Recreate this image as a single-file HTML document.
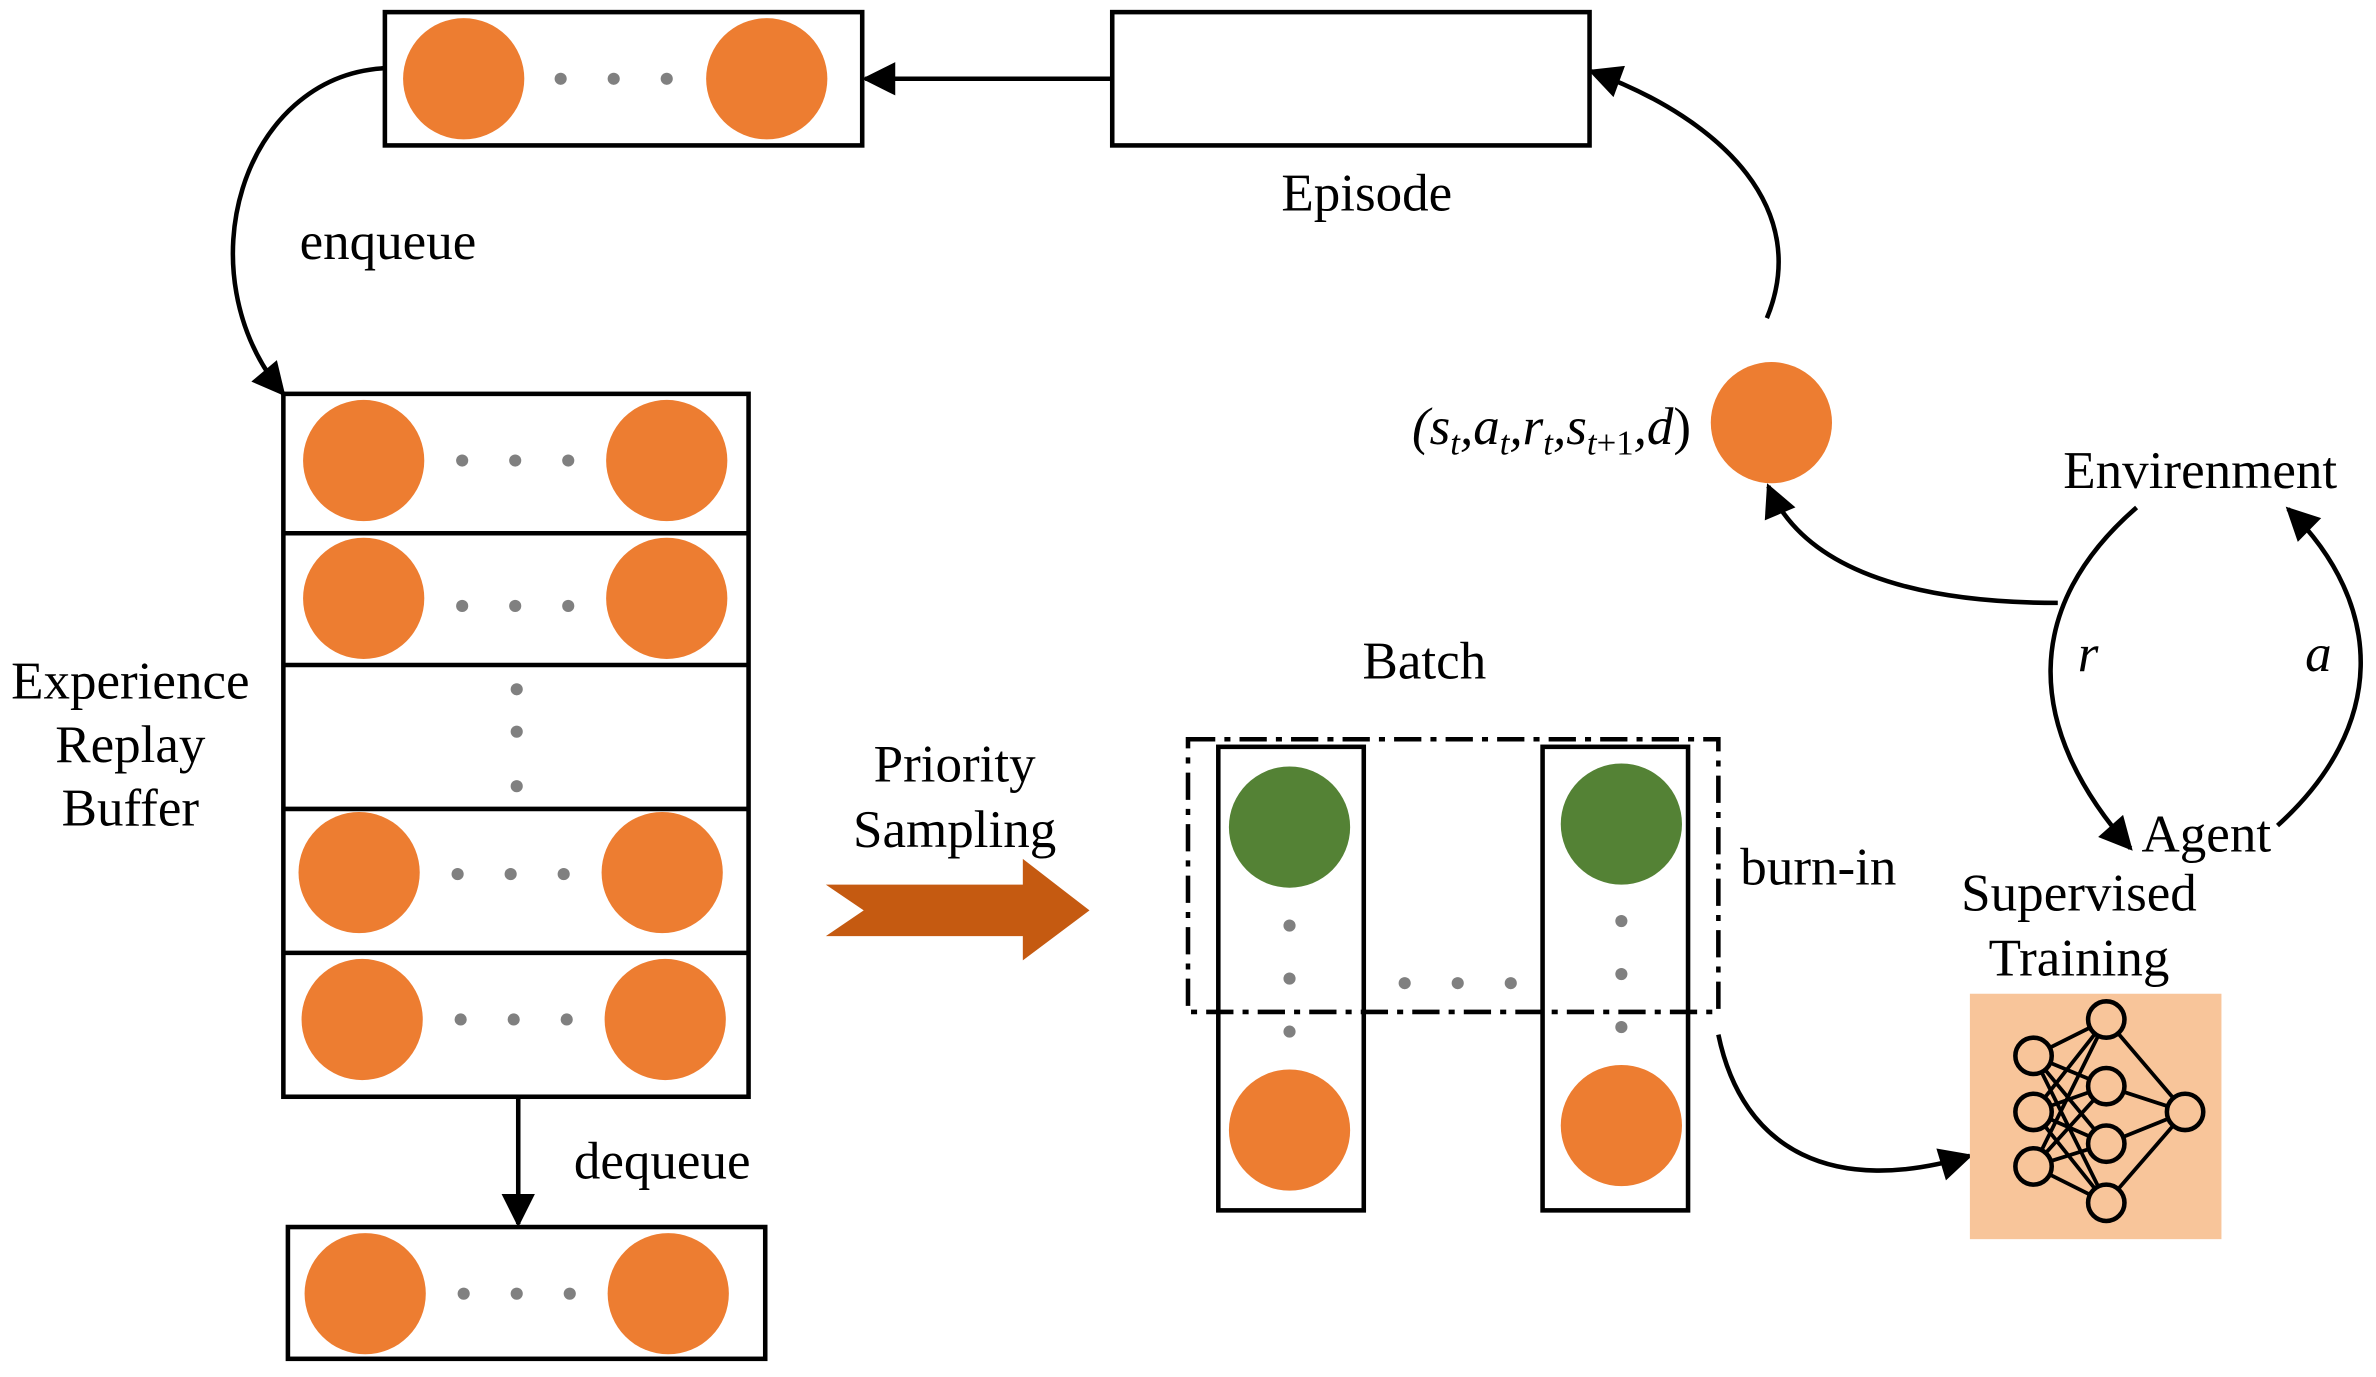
<!DOCTYPE html>
<html><head><meta charset="utf-8"><style>
html,body{margin:0;padding:0;background:#fff;}
svg{display:block;}
text{font-family:"Liberation Serif",serif;fill:#000;}
</style></head><body>
<svg width="2376" height="1377" viewBox="0 0 1568 909" preserveAspectRatio="none" xmlns="http://www.w3.org/2000/svg">
<defs>
<marker id="a2" viewBox="0 0 10 10" refX="9" refY="5" markerWidth="24" markerHeight="22" markerUnits="userSpaceOnUse" orient="auto">
<path d="M0,0 L10,5 L0,10 z" fill="#000"/></marker>
</defs>
<g fill="#ed7d31">
<circle cx="306" cy="52" r="40"/><circle cx="506" cy="52" r="40"/>
<circle cx="240" cy="304" r="40"/><circle cx="440" cy="304" r="40"/>
<circle cx="240" cy="395" r="40"/><circle cx="440" cy="395" r="40"/>
<circle cx="237" cy="576" r="40"/><circle cx="437" cy="576" r="40"/>
<circle cx="239" cy="673" r="40"/><circle cx="439" cy="673" r="40"/>
<circle cx="241" cy="854" r="40"/><circle cx="441" cy="854" r="40"/>
<circle cx="851" cy="746" r="40"/><circle cx="1070" cy="743" r="40"/>
<circle cx="1169" cy="279" r="40"/>
</g>
<g fill="#548235"><circle cx="851" cy="546" r="40"/><circle cx="1070" cy="544" r="40"/></g>
<g fill="#808080">
<circle cx="370" cy="52" r="4"/><circle cx="405" cy="52" r="4"/><circle cx="440" cy="52" r="4"/>
<circle cx="305" cy="304" r="4"/><circle cx="340" cy="304" r="4"/><circle cx="375" cy="304" r="4"/>
<circle cx="305" cy="400" r="4"/><circle cx="340" cy="400" r="4"/><circle cx="375" cy="400" r="4"/>
<circle cx="341" cy="455" r="4"/><circle cx="341" cy="483" r="4"/><circle cx="341" cy="519" r="4"/>
<circle cx="302" cy="577" r="4"/><circle cx="337" cy="577" r="4"/><circle cx="372" cy="577" r="4"/>
<circle cx="304" cy="673" r="4"/><circle cx="339" cy="673" r="4"/><circle cx="374" cy="673" r="4"/>
<circle cx="306" cy="854" r="4"/><circle cx="341" cy="854" r="4"/><circle cx="376" cy="854" r="4"/>
<circle cx="851" cy="611" r="4"/><circle cx="851" cy="646" r="4"/><circle cx="851" cy="681" r="4"/>
<circle cx="1070" cy="608" r="4"/><circle cx="1070" cy="643" r="4"/><circle cx="1070" cy="678" r="4"/>
<circle cx="927" cy="649" r="4"/><circle cx="962" cy="649" r="4"/><circle cx="997" cy="649" r="4"/>
</g>
<g fill="none" stroke="#000" stroke-width="3">
<rect x="254" y="8" width="315" height="88"/>
<rect x="734" y="8" width="315" height="88"/>
<rect x="187" y="260" width="307" height="464"/>
<line x1="187" y1="352" x2="494" y2="352"/><line x1="187" y1="439" x2="494" y2="439"/>
<line x1="187" y1="534" x2="494" y2="534"/><line x1="187" y1="629" x2="494" y2="629"/>
<rect x="190" y="810" width="315" height="87"/>
<rect x="804" y="493" width="96" height="306"/>
<rect x="1018" y="493" width="96" height="306"/>
<rect x="784" y="488" width="350" height="180" stroke-dasharray="18,6,4,6"/>
<line x1="734" y1="52" x2="571" y2="52" marker-end="url(#a2)"/>
<path d="M254,45 C160,50 120,180 187,260" marker-end="url(#a2)"/>
<line x1="342" y1="724" x2="342" y2="808" marker-end="url(#a2)"/>
<path d="M1134,683 C1150,760 1210,790 1300,763" marker-end="url(#a2)"/>
<path d="M1166,210 C1195,140 1140,80 1050,47" marker-end="url(#a2)"/>
<path d="M1358,398 C1260,398 1190,375 1167,321" marker-end="url(#a2)"/>
<path d="M1410,335 C1335,400 1335,480 1406,560" marker-end="url(#a2)"/>
<path d="M1503,545 C1575,480 1575,400 1510,336" marker-end="url(#a2)"/>
</g>
<polygon points="545,584 675,584 675,567 719,601 675,634 675,618 545,618 570,601" fill="#c55a11"/>
<rect x="1300" y="656" width="166" height="162" fill="#f8c59a"/>
<g stroke="#000" stroke-width="2.5" fill="none">
<path d="M1342,697 L1390,673 M1342,697 L1390,717 M1342,697 L1390,755 M1342,697 L1390,794
M1342,734 L1390,673 M1342,734 L1390,717 M1342,734 L1390,755 M1342,734 L1390,794
M1342,770 L1390,673 M1342,770 L1390,717 M1342,770 L1390,755 M1342,770 L1390,794
M1390,673 L1442,734 M1390,717 L1442,734 M1390,755 L1442,734 M1390,794 L1442,734"/>
</g>
<g stroke="#000" stroke-width="3" fill="#f8c59a">
<circle cx="1342" cy="697" r="12"/><circle cx="1342" cy="734" r="12"/><circle cx="1342" cy="770" r="12"/>
<circle cx="1390" cy="673" r="12"/><circle cx="1390" cy="717" r="12"/><circle cx="1390" cy="755" r="12"/><circle cx="1390" cy="794" r="12"/>
<circle cx="1442" cy="734" r="12"/>
</g>
<g font-size="35" text-anchor="middle">
<text x="902" y="139">Episode</text>
<text x="256" y="171">enqueue</text>
<text x="86" y="461">Experience</text>
<text x="86" y="503">Replay</text>
<text x="86" y="545">Buffer</text>
<text x="437" y="778">dequeue</text>
<text x="630" y="516">Priority</text>
<text x="630" y="559">Sampling</text>
<text x="940" y="448">Batch</text>
<text x="1200" y="584">burn-in</text>
<text x="1372" y="601">Supervised</text>
<text x="1372" y="644">Training</text>
<text x="1452" y="322">Envirenment</text>
<text x="1456" y="562">Agent</text>
<text x="1378" y="443" font-style="italic">r</text>
<text x="1530" y="443" font-style="italic">a</text>
</g>
<text x="1116" y="293" font-size="35" text-anchor="end" font-style="italic">(s<tspan font-size="23" dy="7">t</tspan><tspan dy="-7">,a</tspan><tspan font-size="23" dy="7">t</tspan><tspan dy="-7">,r</tspan><tspan font-size="23" dy="7">t</tspan><tspan dy="-7">,s</tspan><tspan font-size="23" dy="7">t</tspan><tspan font-size="23" font-style="normal">+1</tspan><tspan dy="-7">,d</tspan><tspan font-style="normal">)</tspan></text>
</svg>
</body></html>
